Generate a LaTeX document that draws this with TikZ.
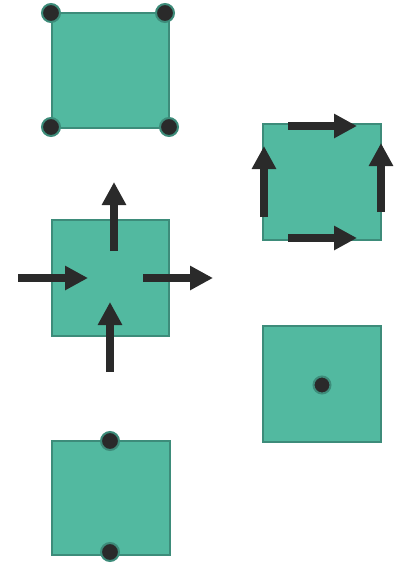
\documentclass[tikz,border=0pt]{standalone}
\usetikzlibrary{arrows.meta}
\definecolor{sqfill}{HTML}{52B9A0}
\definecolor{sqedge}{HTML}{3D8C7A}
\definecolor{dark}{HTML}{2A2A2A}
\begin{document}
\begin{tikzpicture}[x=1pt,y=-1pt,
  sq/.style={draw=sqedge,fill=sqfill,line width=2pt,rectangle,inner sep=0pt,minimum width=117pt,minimum height=115pt},
  dot/.style={circle,fill=dark,draw=sqedge,line width=2pt,inner sep=0pt,minimum size=18pt},
  arr/.style={draw=dark,line width=8pt,-{Triangle[length=23pt,width=23pt]}}]
\useasboundingbox (0,0) rectangle (399,563);
% square 1
\node[sq] (s1) at (110,70.5) {};
\node[dot] (d1a) at (51,13) {};
\node[dot] (d1b) at (165,13) {};
\node[dot] (d1c) at (51,127) {};
\node[dot] (d1d) at (169,127) {};
% square 2
\node[sq,minimum height=116pt] (s2) at (110,278) {};
\coordinate (a1s) at (114,251); \coordinate (a1e) at (114,182);
\coordinate (a2s) at (18,278);  \coordinate (a2e) at (88,278);
\coordinate (a3s) at (143,278); \coordinate (a3e) at (213,278);
\coordinate (a4s) at (110,372); \coordinate (a4e) at (110,302);
\draw[arr] (a1s) -- (a1e);
\draw[arr] (a2s) -- (a2e);
\draw[arr] (a3s) -- (a3e);
\draw[arr] (a4s) -- (a4e);
% square 3
\node[sq,minimum width=118pt,minimum height=116pt] (s3) at (322,181.5) {};
\coordinate (b1s) at (288,126); \coordinate (b1e) at (357,126);
\coordinate (b2s) at (288,238); \coordinate (b2e) at (357,238);
\coordinate (b3s) at (264,217); \coordinate (b3e) at (264,146);
\coordinate (b4s) at (381,212); \coordinate (b4e) at (381,143);
\draw[arr] (b1s) -- (b1e);
\draw[arr] (b2s) -- (b2e);
\draw[arr] (b3s) -- (b3e);
\draw[arr] (b4s) -- (b4e);
% square 4
\node[sq,minimum width=118pt,minimum height=116pt] (s4) at (322,383.5) {};
\node[dot,minimum size=17pt] (d4) at (322,385) {};
% square 5
\node[sq,minimum width=118pt,minimum height=114pt] (s5) at (110.5,498) {};
\node[dot] (d5a) at (110,441) {};
\node[dot] (d5b) at (110,552) {};
\end{tikzpicture}
\end{document}
